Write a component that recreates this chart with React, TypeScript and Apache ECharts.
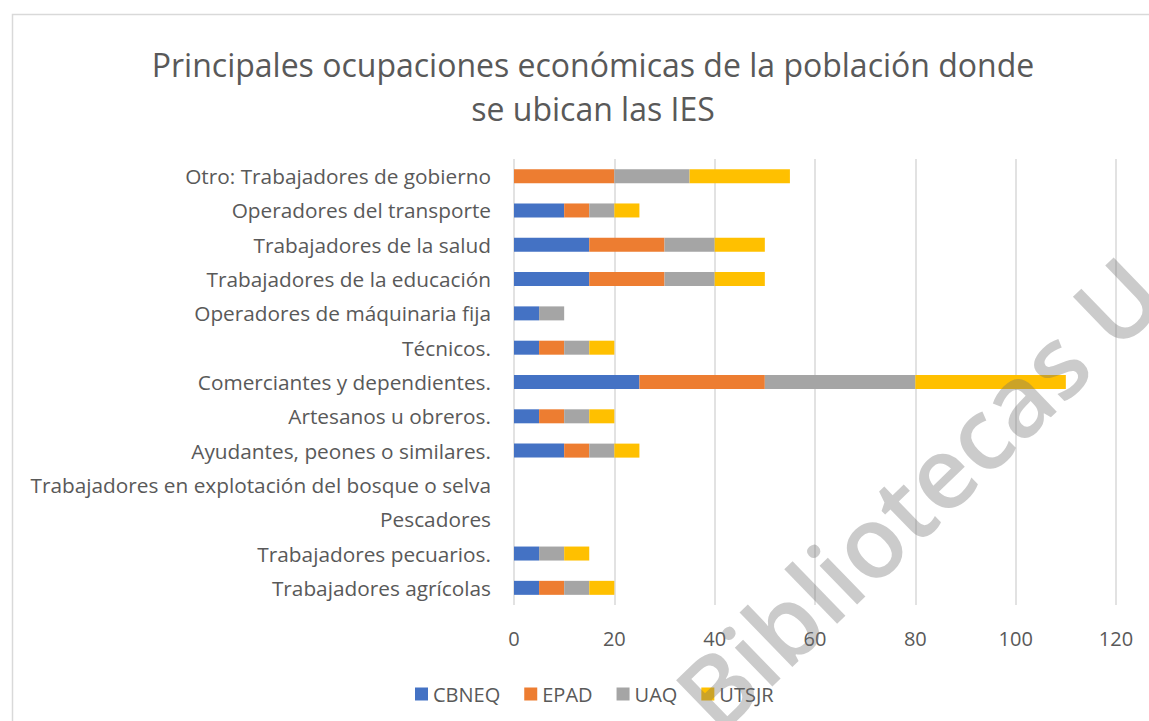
import React, { useEffect, useRef } from "react";
import * as echarts from "echarts";

// Categories from top to bottom
const categories = [
  "Otro: Trabajadores de gobierno",
  "Operadores del transporte",
  "Trabajadores de la salud",
  "Trabajadores de la educación",
  "Operadores de máquinaria fija",
  "Técnicos.",
  "Comerciantes y dependientes.",
  "Artesanos u obreros.",
  "Ayudantes, peones o similares.",
  "Trabajadores en explotación del bosque o selva",
  "Pescadores",
  "Trabajadores pecuarios.",
  "Trabajadores agrícolas",
];

const seriesNames = ["CBNEQ", "EPAD", "UAQ", "UTSJR"];
const cbneq = [0, 10, 15, 15, 5, 5, 25, 5, 10, 0, 0, 5, 5];
const epad = [20, 5, 15, 15, 0, 5, 25, 5, 5, 0, 0, 0, 5];
const uaq = [15, 5, 10, 10, 5, 5, 30, 5, 5, 0, 0, 5, 5];
const utsjr = [20, 5, 10, 10, 0, 5, 30, 5, 5, 0, 0, 5, 5];
const xTicks = { min: 0, max: 120, interval: 20 };

const colors = ["#4472C4", "#ED7D31", "#A5A5A5", "#FFC000"];
const FONT = "Open Sans";
const TEXT = "#595959";

export default function App() {
  const ref = useRef<HTMLDivElement>(null);
  useEffect(() => {
    if (!ref.current) return;
    const chart = echarts.init(ref.current, null, { renderer: "svg" });
    const values = [cbneq, epad, uaq, utsjr];
    chart.setOption({
      animation: false,
      backgroundColor: "#ffffff",
      title: {
        text: "Principales ocupaciones económicas de la población donde\nse ubican las IES",
        left: 588,
        top: 37,
        textAlign: "center",
        textStyle: {
          fontFamily: FONT,
          fontSize: 32,
          lineHeight: 44,
          fontWeight: "normal",
          color: TEXT,
        },
      },
      legend: {
        left: 410,
        top: 679,
        itemWidth: 13,
        itemHeight: 13,
        itemGap: 24,
        icon: "rect",
        textStyle: { fontFamily: FONT, fontSize: 20, color: TEXT },
        data: seriesNames,
      },
      grid: { left: 514, right: 33, top: 159, height: 446, containLabel: false },
      xAxis: {
        type: "value",
        min: xTicks.min,
        max: xTicks.max,
        interval: xTicks.interval,
        axisLine: { show: false },
        axisTick: { show: false },
        splitLine: { show: true, lineStyle: { color: "#D9D9D9", width: 1.5 } },
        axisLabel: { fontFamily: FONT, fontSize: 20, color: TEXT, margin: 23 },
      },
      yAxis: {
        type: "category",
        inverse: true,
        data: categories,
        axisLine: { show: false },
        axisTick: { show: false },
        axisLabel: { fontFamily: FONT, fontSize: 20.8, color: TEXT, margin: 23 },
      },
      series: seriesNames.map((name, i) => ({
        name,
        type: "bar",
        stack: "total",
        barWidth: 14,
        itemStyle: { color: colors[i] },
        data: values[i],
      })),
      graphic: [
        {
          type: "rect",
          shape: { x: 12.5, y: 14.5, width: 1300, height: 900 },
          style: { fill: "none", stroke: "#D9D9D9", lineWidth: 1.5 },
          silent: true,
          z: -10,
        },
        {
          type: "text",
          x: 692,
          y: 710,
          rotation: 0.768,
          z: 100,
          silent: true,
          style: {
            text: "Bibliotecas U",
            font: "600 100px 'Open Sans'",
            fill: "rgba(110,110,110,0.36)",
            textAlign: "left",
            textVerticalAlign: "middle",
          },
        },
      ],
    });
    return () => chart.dispose();
  }, []);
  return (
    <div
      ref={ref}
      style={{ position: "fixed", left: 0, top: 0, width: 1149, height: 721 }}
    />
  );
}
